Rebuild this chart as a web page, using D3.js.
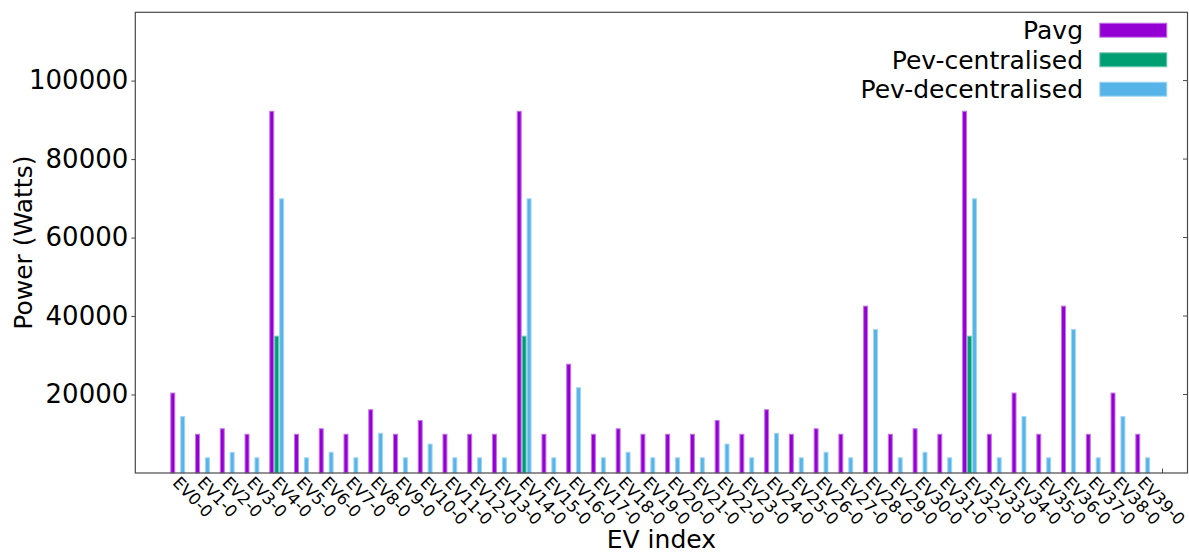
<!DOCTYPE html>
<html>
<head>
<meta charset="utf-8">
<script src="https://cdn.jsdelivr.net/npm/d3@7"></script>
<style>
  html, body { margin: 0; padding: 0; background: #fff; }
  svg { display: block; font-family: "DejaVu Sans", sans-serif; }
</style>
</head>
<body>
<svg id="chart" width="1189" height="552"></svg>
<script>
const categories = ["EV0-0","EV1-0","EV2-0","EV3-0","EV4-0","EV5-0","EV6-0","EV7-0","EV8-0","EV9-0",
  "EV10-0","EV11-0","EV12-0","EV13-0","EV14-0","EV15-0","EV16-0","EV17-0","EV18-0","EV19-0",
  "EV20-0","EV21-0","EV22-0","EV23-0","EV24-0","EV25-0","EV26-0","EV27-0","EV28-0","EV29-0",
  "EV30-0","EV31-0","EV32-0","EV33-0","EV34-0","EV35-0","EV36-0","EV37-0","EV38-0","EV39-0"];

const pavg = [20500,10000,11400,10000,92300,10000,11400,10000,16250,10000,
  13500,10000,10000,10000,92300,10000,27850,10000,11400,10000,
  10000,10000,13500,10000,16250,10000,11400,10000,42650,10000,
  11400,10000,92300,10000,20500,10000,42650,10000,20500,10000];

const pevCentralised = [0,0,0,0,35000,0,0,0,0,0,
  0,0,0,0,35000,0,0,0,0,0,
  0,0,0,0,0,0,0,0,0,0,
  0,0,35000,0,0,0,0,0,0,0];

const pevDecentralised = [14500,4000,5400,4000,70000,4000,5400,4000,10250,4000,
  7500,4000,4000,4000,70000,4000,21850,4000,5400,4000,
  4000,4000,7500,4000,10250,4000,5400,4000,36700,4000,
  5400,4000,70000,4000,14500,4000,36700,4000,14500,4000];

const seriesNames = ["Pavg", "Pev-centralised", "Pev-decentralised"];
const seriesColors = ["#9400D3", "#009E73", "#56B4E9"];
const yTickValues = [20000, 40000, 60000, 80000, 100000];
const xLabel = "EV index";
const yLabel = "Power (Watts)";

const svg = d3.select("#chart");
const L = 135.3, R = 1187.5, T = 12.3, B = 473;
const x = d3.scaleLinear().domain([-1.415, 41.11]).range([L, R]);
const y = d3.scaleLinear().domain([0, 117400]).range([B, T]);
const barW = 0.2;
const frameColor = "#4a4a4a";
const lighten = c => d3.interpolateRgb(c, "#ffffff")(0.45);

// bottom inward ticks (drawn first, under bars)
const tickIdx = d3.range(categories.length + 1);
svg.append("g").selectAll("line").data(tickIdx).join("line")
  .attr("x1", i => x(i + barW / 2)).attr("x2", i => x(i + barW / 2))
  .attr("y1", B).attr("y2", B - 4.5)
  .attr("stroke", frameColor).attr("stroke-width", 1);

// bars
const series = [pavg, pevCentralised, pevDecentralised];
series.forEach((vals, s) => {
  svg.append("g").selectAll("rect").data(vals).join("rect")
    .attr("x", (d, i) => x(i + s * barW) + 0.5)
    .attr("width", x(barW) - x(0) - 1)
    .attr("y", d => y(d) + 0.5)
    .attr("height", d => Math.max(0, y(0) - y(d) - 0.5))
    .attr("fill", seriesColors[s])
    .attr("stroke", d => d > 0 ? lighten(seriesColors[s]) : "none")
    .attr("stroke-width", 1);
});

// frame
svg.append("rect").attr("x", L).attr("y", T).attr("width", R - L).attr("height", B - T)
  .attr("fill", "none").attr("stroke", frameColor).attr("stroke-width", 1.2);

// y axis (left, outward ticks)
const yAxis = d3.axisLeft(y).tickValues(yTickValues).tickSize(4).tickPadding(3).tickFormat(d3.format("d"));
const gy = svg.append("g").attr("transform", `translate(${L},0)`).call(yAxis);
gy.select(".domain").remove();
gy.selectAll(".tick line").attr("stroke", frameColor).attr("stroke-width", 1);
gy.selectAll(".tick text").attr("font-size", 26).attr("fill", "#000")
  .attr("font-family", "DejaVu Sans, sans-serif");

// right inward ticks
svg.append("g").selectAll("line").data(yTickValues).join("line")
  .attr("x1", R).attr("x2", R - 4.5).attr("y1", d => y(d)).attr("y2", d => y(d))
  .attr("stroke", frameColor).attr("stroke-width", 1);

// x tick labels rotated
svg.append("g").selectAll("text").data(categories).join("text")
  .attr("transform", (d, i) => `translate(${x(i + barW / 2) - 1},${B + 10.5}) rotate(46)`)
  .attr("font-size", 16.5).attr("fill", "#000")
  .text(d => d);

// axis titles
svg.append("text").attr("x", (L + R) / 2).attr("y", 548).attr("text-anchor", "middle")
  .attr("font-size", 25).attr("fill", "#000").text(xLabel);
svg.append("text").attr("transform", `translate(32,${(T + B) / 2}) rotate(-90)`)
  .attr("text-anchor", "middle").attr("font-size", 25).attr("fill", "#000").text(yLabel);

// legend
const legRows = [30.2, 59.8, 89.2];
const lg = svg.append("g");
seriesNames.forEach((name, s) => {
  lg.append("rect").attr("x", 1099.8).attr("y", legRows[s] - 7).attr("width", 67).attr("height", 14)
    .attr("fill", seriesColors[s]).attr("stroke", lighten(seriesColors[s])).attr("stroke-width", 1);
  lg.append("text").attr("x", 1083).attr("y", legRows[s] + 9)
    .attr("text-anchor", "end").attr("font-size", 25).attr("fill", "#000").text(name);
});
</script>
</body>
</html>
